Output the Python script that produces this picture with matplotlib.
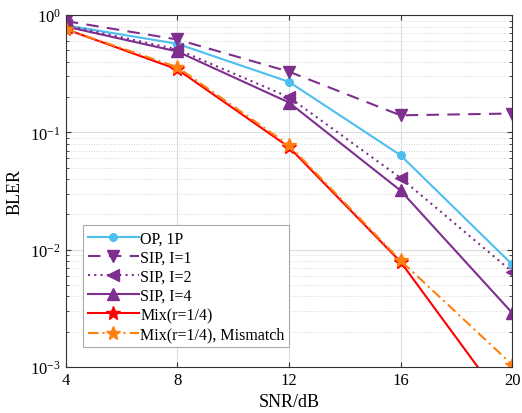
import matplotlib
matplotlib.use("Agg")
import matplotlib.pyplot as plt
from matplotlib.ticker import LogLocator, NullFormatter

plt.rcParams["font.family"] = ["Liberation Serif", "DejaVu Serif"]
plt.rcParams["mathtext.fontset"] = "stix"

snr = [4, 8, 12, 16, 20]
op_1p = [0.82, 0.57, 0.27, 0.064, 0.0075]
sip_i1 = [0.89, 0.62, 0.33, 0.14, 0.145]
sip_i2 = [0.82, 0.51, 0.20, 0.041, 0.0065]
sip_i4 = [0.80, 0.49, 0.18, 0.032, 0.0029]
mix = [0.76, 0.345, 0.075, 0.0079, 0.0004]
mix_mismatch = [0.76, 0.36, 0.078, 0.0081, 0.00105]

fig = plt.figure(figsize=(5.22, 4.14), dpi=100)
ax = fig.add_axes([0.126, 0.111, 0.855, 0.85])

purple = "#7E2F8E"
ax.plot(snr, op_1p, color="#4DBEEE", lw=1.5, marker=(8, 2, 0), ms=6, mew=2,
        label="OP, 1P")
ax.plot(snr, sip_i1, color=purple, lw=1.5, ls=(0, (6, 4)), marker="v", ms=8,
        label="SIP, I=1")
ax.plot(snr, sip_i2, color=purple, lw=1.5, ls=(0, (1, 2)), marker="<", ms=8,
        label="SIP, I=2")
ax.plot(snr, sip_i4, color=purple, lw=1.5, marker="^", ms=8, label="SIP, I=4")
ax.plot(snr, mix, color="#FF0000", lw=1.5, marker="*", ms=10,
        label="Mix(r=1/4)")
ax.plot(snr, mix_mismatch, color="#FF8010", lw=1.5, ls=(0, (5, 2, 1, 2)),
        marker="*", ms=10, label="Mix(r=1/4), Mismatch")

ax.set_yscale("log")
ax.set_xlim(4, 20)
ax.set_ylim(1e-3, 1)
ax.set_xticks([4, 8, 12, 16, 20])
ax.yaxis.set_major_locator(LogLocator(base=10, numticks=10))
ax.yaxis.set_minor_locator(LogLocator(base=10, subs=range(2, 10), numticks=10))
ax.yaxis.set_minor_formatter(NullFormatter())

ax.grid(True, which="major", color="#dddddd", lw=0.8)
ax.grid(True, which="minor", axis="y", color="#cccccc", lw=0.6, ls=(0, (1, 2)))
ax.tick_params(which="both", direction="in", top=True, right=True,
               labelsize=12, color="#333333")
for s in ax.spines.values():
    s.set_color("#333333")
    s.set_linewidth(0.8)

ax.set_xlabel("SNR/dB", fontsize=13)
ax.set_ylabel("BLER", fontsize=13, labelpad=5)

leg = ax.legend(loc="lower left", bbox_to_anchor=(0.038, 0.057), fontsize=11.5,
                handlelength=3.2, handletextpad=0.1, labelspacing=0.2,
                borderpad=0.3, borderaxespad=0, fancybox=False, framealpha=1)
leg.get_frame().set_edgecolor("#aaaaaa")
leg.get_frame().set_linewidth(0.8)

fig.savefig("out.png", dpi=100)
plt.close()
